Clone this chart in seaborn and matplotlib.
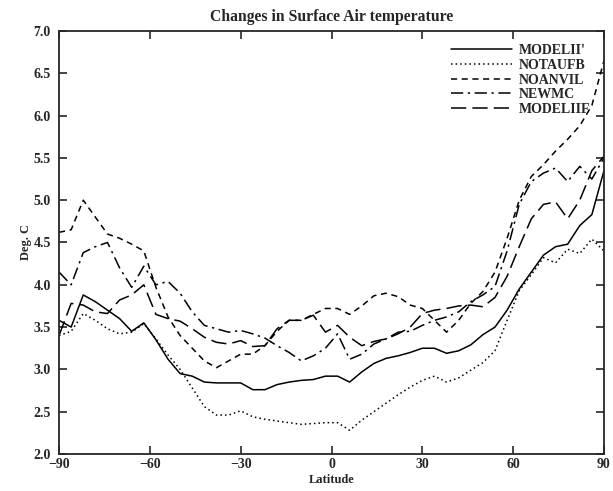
import numpy as np
import pandas as pd
import matplotlib
matplotlib.use("Agg")
import matplotlib.pyplot as plt
import seaborn as sns

# Latitude grid (4-degree spacing, pole to pole)
latitude = list(range(-90, 91, 4))

modelii = [3.58, 3.50, 3.88, 3.80, 3.70, 3.60, 3.45, 3.55, 3.35, 3.12,
           2.95, 2.92, 2.85, 2.84, 2.84, 2.84, 2.76, 2.76, 2.82, 2.85,
           2.87, 2.88, 2.92, 2.92, 2.85, 2.97, 3.07, 3.13, 3.16, 3.20,
           3.25, 3.25, 3.19, 3.22, 3.29, 3.41, 3.50, 3.70, 3.95, 4.15,
           4.35, 4.45, 4.48, 4.70, 4.83, 5.35]

notaufb = [3.40, 3.45, 3.66, 3.58, 3.48, 3.42, 3.44, 3.54, 3.36, 3.17,
           3.00, 2.78, 2.56, 2.46, 2.46, 2.51, 2.44, 2.41, 2.39, 2.37,
           2.35, 2.36, 2.37, 2.37, 2.28, 2.40, 2.50, 2.60, 2.70, 2.79,
           2.87, 2.92, 2.85, 2.90, 2.99, 3.08, 3.22, 3.58, 3.93, 4.12,
           4.32, 4.26, 4.42, 4.37, 4.54, 4.40]

noanvil = [4.62, 4.65, 5.00, 4.80, 4.60, 4.55, 4.48, 4.40, 3.97, 3.62,
           3.40, 3.25, 3.10, 3.02, 3.10, 3.18, 3.18, 3.28, 3.45, 3.58,
           3.58, 3.65, 3.72, 3.72, 3.65, 3.75, 3.87, 3.90, 3.86, 3.76,
           3.72, 3.58, 3.44, 3.58, 3.78, 3.92, 4.15, 4.55, 5.00, 5.28,
           5.42, 5.58, 5.72, 5.88, 6.12, 6.65]

newmc = [4.15, 4.00, 4.38, 4.45, 4.50, 4.20, 3.97, 4.22, 4.00, 4.04,
         3.90, 3.68, 3.52, 3.48, 3.44, 3.46, 3.42, 3.37, 3.28, 3.20,
         3.10, 3.16, 3.25, 3.42, 3.12, 3.18, 3.30, 3.36, 3.44, 3.45,
         3.52, 3.58, 3.62, 3.68, 3.80, 3.88, 3.98, 4.40, 4.95, 5.22,
         5.32, 5.38, 5.22, 5.40, 5.25, 5.50]

modeliif = [3.40, 3.78, 3.76, 3.68, 3.66, 3.82, 3.88, 4.00, 3.65, 3.60,
            3.57, 3.48, 3.38, 3.32, 3.30, 3.34, 3.27, 3.28, 3.48, 3.58,
            3.58, 3.64, 3.44, 3.52, 3.38, 3.28, 3.33, 3.36, 3.42, 3.50,
            3.66, 3.70, 3.72, 3.75, 3.76, 3.74, 3.85, 4.10, 4.45, 4.78,
            4.95, 4.98, 4.78, 5.00, 5.35, 5.52]

series_names = ["MODELII'", "NOTAUFB", "NOANVIL", "NEWMC", "MODELIIF"]
series_values = [modelii, notaufb, noanvil, newmc, modeliif]
dash_patterns = [None, (1, 2), (4, 3), (8, 3, 1.5, 3), (10, 4)]

sns.set_style("ticks")
plt.rcParams["font.family"] = ["Liberation Serif", "DejaVu Serif"]
plt.rcParams["font.weight"] = "bold"

fig = plt.figure(figsize=(6.13, 4.91), dpi=100)
ax = fig.add_axes([0.0963, 0.0754, 0.889, 0.8615])

frames = []
for name, vals in zip(series_names, series_values):
    frames.append(pd.DataFrame({"Latitude": latitude, "Deg": vals, "Run": name}))
df = pd.concat(frames, ignore_index=True)

for name, dashes in zip(series_names, dash_patterns):
    sub = df[df["Run"] == name]
    sns.lineplot(data=sub, x="Latitude", y="Deg", ax=ax, color="black",
                 linewidth=1.1, label=name)
    ln = ax.get_lines()[-1]
    if dashes is None:
        ln.set_linestyle("-")
    else:
        ln.set_dashes(dashes)

ax.set_xlim(-90, 90)
ax.set_ylim(2.0, 7.0)
ax.set_xticks([-90, -60, -30, 0, 30, 60, 90])
ax.set_yticks(np.arange(2.0, 7.01, 0.5))
ax.set_yticklabels([f"{v:.1f}" for v in np.arange(2.0, 7.01, 0.5)])
ax.tick_params(direction="in", length=6, width=1.2, top=True, right=True,
               labelsize=10)
ax.tick_params(axis="x", pad=3)
ax.tick_params(axis="y", pad=6)
for lbl in ax.get_xticklabels() + ax.get_yticklabels():
    lbl.set_fontweight("bold")
for sp in ax.spines.values():
    sp.set_linewidth(1.3)

ax.set_xlabel("Latitude", fontsize=9, fontweight="bold", labelpad=2)
ax.set_ylabel("Deg. C", fontsize=9, fontweight="bold", labelpad=1)
ax.set_title("Changes in Surface Air temperature", fontsize=11.3,
             fontweight="bold", pad=7)

leg = ax.legend(loc="upper right", frameon=False, handlelength=4.4,
                handletextpad=0.5, labelspacing=0.12, borderaxespad=0.55,
                prop={"weight": "bold", "size": 10})
for t in leg.get_texts():
    t.set_fontweight("bold")

fig.savefig("out.png", dpi=100)
